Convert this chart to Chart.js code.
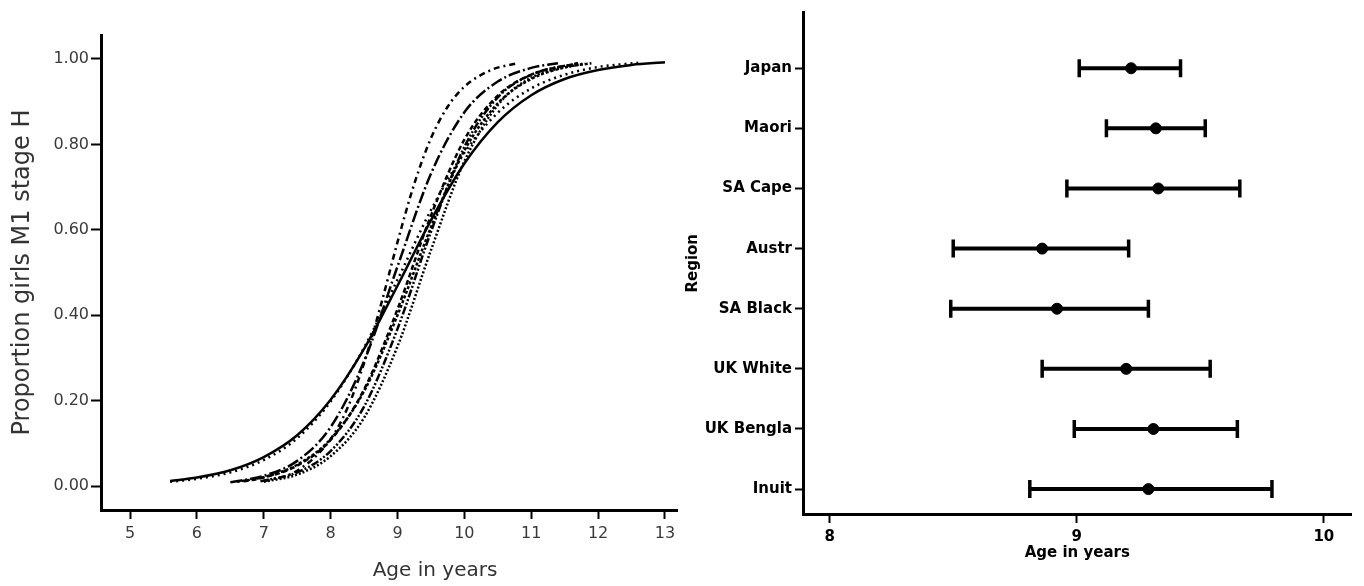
<!DOCTYPE html>
<html>
<head>
<meta charset="utf-8">
<script src="https://cdn.jsdelivr.net/npm/chart.js@4.4.0/dist/chart.umd.min.js"></script>
<style>
  html, body { margin: 0; padding: 0; background: #fff; }
  #wrap { position: relative; width: 1364px; height: 586px; overflow: hidden; }
  #left { position: absolute; left: 0; top: 0; }
  #right { position: absolute; left: 680px; top: 0; }
</style>
</head>
<body>
<div id="wrap">
  <canvas id="left" width="690" height="586"></canvas>
  <canvas id="right" width="684" height="586"></canvas>
</div>
<script>
// ---- left panel: fitted curves, proportion at stage M1 by age ----
var xTicksLeft = [5, 6, 7, 8, 9, 10, 11, 12, 13];
var yTicksLeft = [0, 0.2, 0.4, 0.6, 0.8, 1.0];

var solidAge  = [5.6, 6, 6.5, 7, 7.5, 8, 8.5, 9, 9.5, 10, 10.5, 11, 11.5, 12, 12.5, 13];
var solidProp = [0.012, 0.020, 0.037, 0.068, 0.119, 0.202, 0.321, 0.469, 0.622, 0.755, 0.852, 0.915, 0.953, 0.974, 0.986, 0.992];

var dottedAge  = [5.6, 6, 6.5, 7, 7.5, 8, 8.5, 9, 9.5, 10, 10.5, 11, 11.5, 12, 12.6];
var dottedProp = [0.010, 0.017, 0.032, 0.061, 0.112, 0.198, 0.324, 0.483, 0.646, 0.780, 0.874, 0.931, 0.963, 0.981, 0.991];

var dashDotAge  = [7.0, 7.5, 8, 8.25, 8.5, 8.75, 9, 9.25, 9.5, 9.75, 10, 10.4, 10.8];
var dashDotProp = [0.011, 0.036, 0.110, 0.182, 0.288, 0.423, 0.571, 0.707, 0.814, 0.888, 0.935, 0.974, 0.990];

var longDashAge  = [6.5, 7, 7.5, 8, 8.5, 9, 9.5, 10, 10.5, 11, 11.4];
var longDashProp = [0.009, 0.024, 0.059, 0.138, 0.292, 0.514, 0.731, 0.875, 0.947, 0.979, 0.990];

var shortDashAge  = [6.7, 7, 7.5, 8, 8.5, 9, 9.5, 10, 10.5, 11, 11.7];
var shortDashProp = [0.011, 0.020, 0.048, 0.108, 0.226, 0.414, 0.633, 0.811, 0.914, 0.963, 0.990];

var fineDashAge  = [6.6, 7, 7.5, 8, 8.5, 9, 9.5, 10, 10.5, 11, 11.5, 11.9];
var fineDashProp = [0.010, 0.021, 0.050, 0.110, 0.222, 0.400, 0.606, 0.785, 0.896, 0.953, 0.980, 0.990];

var dashDotDotAge  = [6.95, 7.5, 8, 8.5, 9, 9.5, 10, 10.5, 11, 11.7];
var dashDotDotProp = [0.011, 0.032, 0.082, 0.186, 0.368, 0.595, 0.794, 0.910, 0.963, 0.990];

var denseDotAge  = [7.0, 7.5, 8, 8.5, 9, 9.5, 10, 10.5, 11, 11.8];
var denseDotProp = [0.010, 0.027, 0.070, 0.160, 0.327, 0.552, 0.760, 0.892, 0.956, 0.990];

// ---- right panel: mean age and interval by region ----
var regions = ['Japan', 'Maori', 'SA Cape', 'Austr', 'SA Black', 'UK White', 'UK Bengla', 'Inuit'];
var meanAge = [9.22, 9.32, 9.33, 8.86, 8.92, 9.20, 9.31, 9.29];
var lowAge  = [9.01, 9.12, 8.96, 8.50, 8.49, 8.86, 8.99, 8.81];
var highAge = [9.42, 9.52, 9.66, 9.21, 9.29, 9.54, 9.65, 9.79];
var xTicksRight = [8, 9, 10];

function pts(xs, ys) {
    return xs.map(function (x, i) { return { x: x, y: ys[i] }; });
}

function curve(xs, ys, dash) {
    return {
        data: pts(xs, ys),
        borderColor: '#000',
        borderWidth: 2.5,
        borderDash: dash,
        pointRadius: 0,
        cubicInterpolationMode: 'monotone',
        fill: false
    };
}

var leftTitle = {
    id: 'leftTitle',
    afterDraw: function (chart) {
        var c = chart.ctx;
        c.save();
        c.fillStyle = '#333';
        c.font = '20px "DejaVu Sans"';
        c.textAlign = 'center';
        c.textBaseline = 'middle';
        c.fillText('Age in years', 435, 571);
        c.restore();
    }
};

var tickFontL = { family: 'DejaVu Sans', size: 16 };

new Chart(document.getElementById('left'), {
    type: 'line',
    data: {
        datasets: [
            curve(solidAge, solidProp, []),
            curve(dottedAge, dottedProp, [2, 4]),
            curve(dashDotAge, dashDotProp, [6, 4, 2, 4]),
            curve(longDashAge, longDashProp, [12, 3, 2, 3]),
            curve(shortDashAge, shortDashProp, [5, 3]),
            curve(fineDashAge, fineDashProp, [3, 2]),
            curve(dashDotDotAge, dashDotDotProp, [8, 2, 2, 2, 2, 2]),
            curve(denseDotAge, denseDotProp, [2, 2])
        ]
    },
    options: {
        responsive: false,
        animation: false,
        layout: { padding: { top: 35, right: 13, left: 0, bottom: 0 } },
        plugins: { legend: { display: false }, tooltip: { enabled: false } },
        scales: {
            x: {
                type: 'linear',
                min: 4.566, max: 13.18,
                afterBuildTicks: function (s) { s.ticks = xTicksLeft.map(function (v) { return { value: v }; }); },
                afterFit: function (s) { s.height = 76; },
                ticks: { font: tickFontL, color: '#3a3a3a', padding: 5, maxRotation: 0 },
                grid: { drawOnChartArea: false, drawTicks: true, tickLength: 9, tickWidth: 2, tickColor: '#000' },
                border: { display: true, color: '#000', width: 3 }
            },
            y: {
                type: 'linear',
                min: -0.056, max: 1.056,
                afterBuildTicks: function (s) { s.ticks = yTicksLeft.map(function (v) { return { value: v }; }); },
                afterFit: function (s) { s.width = 101; },
                ticks: {
                    font: tickFontL, color: '#3a3a3a', padding: 2,
                    callback: function (v) { return Number(v).toFixed(2); }
                },
                grid: { drawOnChartArea: false, drawTicks: true, tickLength: 10, tickWidth: 2, tickColor: '#000' },
                border: { display: true, color: '#000', width: 3 },
                title: {
                    display: true,
                    text: 'Proportion girls M1 stage H',
                    color: '#333',
                    font: { family: 'DejaVu Sans', size: 24 },
                    padding: { top: 8, bottom: 0 }
                }
            }
        }
    },
    plugins: [leftTitle]
});

// right panel
var n = regions.length;
var rightSets = regions.map(function (r, i) {
    var pos = n - i;
    return {
        type: 'line',
        data: [{ x: lowAge[i], y: pos }, { x: highAge[i], y: pos }],
        borderColor: '#000',
        borderWidth: 4,
        pointStyle: 'line',
        pointRotation: 90,
        pointRadius: 9,
        pointBorderWidth: 3.5,
        pointBorderColor: '#000',
        showLine: true
    };
});
rightSets.push({
    type: 'scatter',
    data: meanAge.map(function (m, i) { return { x: m, y: n - i }; }),
    pointRadius: 5.5,
    pointBackgroundColor: '#000',
    pointBorderColor: '#000',
    showLine: false
});

var tickFontR = { family: 'DejaVu Sans', size: 15, weight: 'bold' };

new Chart(document.getElementById('right'), {
    type: 'scatter',
    data: { datasets: rightSets },
    options: {
        responsive: false,
        animation: false,
        layout: { padding: { top: 10, right: 4, left: 0, bottom: 22 } },
        plugins: { legend: { display: false }, tooltip: { enabled: false } },
        scales: {
            x: {
                type: 'linear',
                min: 7.892, max: 10.112,
                afterBuildTicks: function (s) { s.ticks = xTicksRight.map(function (v) { return { value: v }; }); },
                afterFit: function (s) { s.height = 50; },
                ticks: { font: tickFontR, color: '#000', padding: 5, maxRotation: 0 },
                grid: { drawOnChartArea: false, drawTicks: true, tickLength: 9, tickWidth: 2, tickColor: '#000' },
                border: { display: true, color: '#000', width: 3 },
                title: {
                    display: true, text: 'Age in years', color: '#000',
                    font: { family: 'DejaVu Sans', size: 15, weight: 'bold' },
                    padding: { top: 0, bottom: 2 }
                }
            },
            y: {
                type: 'linear',
                min: 0.586, max: 8.927,
                afterBuildTicks: function (s) {
                    var t = [];
                    for (var k = 1; k <= n; k++) t.push({ value: k });
                    s.ticks = t;
                },
                afterFit: function (s) { s.width = 123; },
                ticks: {
                    font: tickFontR, color: '#000', padding: 3,
                    callback: function (v) { return regions[n - v]; }
                },
                grid: { drawOnChartArea: false, drawTicks: true, tickLength: 8, tickWidth: 2, tickColor: '#000' },
                border: { display: true, color: '#000', width: 3 },
                title: {
                    display: true, text: 'Region', color: '#000',
                    font: { family: 'DejaVu Sans', size: 15, weight: 'bold' },
                    padding: { top: 4, bottom: 0 }
                }
            }
        }
    }
});
</script>
</body>
</html>
